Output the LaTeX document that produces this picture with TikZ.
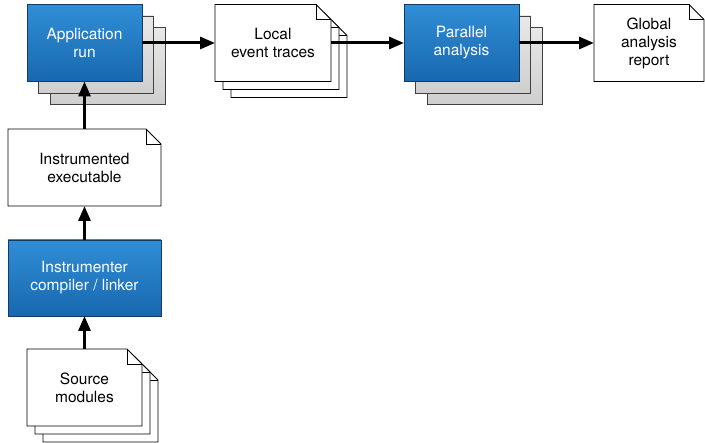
\documentclass[tikz,border=0pt]{standalone}
\usepackage{fontspec}
\setsansfont{TeX Gyre Heros}
\usetikzlibrary{arrows.meta}

\definecolor{boxtop}{RGB}{48,142,214}
\definecolor{boxbottom}{RGB}{24,104,174}
\definecolor{boxedge}{RGB}{18,60,100}

% dog-eared outline round a document node
\newcommand{\docedge}[1]{%
    \draw[line width=0.8pt, fill=white] (#1.north west) -- ([xshift=-15pt]#1.north east)
        -- ([yshift=-15pt]#1.north east) -- (#1.south east) -- (#1.south west) -- cycle;
    \draw[line width=0.8pt] ([xshift=-15pt]#1.north east) |- ([yshift=-15pt]#1.north east);
}

\begin{document}
\begin{tikzpicture}[
    x=1pt, y=-1pt,
    node font=\sffamily\fontsize{15.5}{18}\selectfont,
    flow arrow/.style={-{Triangle[length=15pt,width=12pt]}, line width=3pt},
    blue box/.style={draw=boxedge, line width=0.8pt, top color=boxtop, bottom color=boxbottom,
        text=white, align=center, inner sep=0pt, outer sep=0pt,
        minimum width=115pt, minimum height=77pt},
    gray sheet/.style={draw=black!75, line width=0.8pt, top color=gray!18, bottom color=gray!38,
        inner sep=0pt, outer sep=0pt, minimum width=115pt, minimum height=77pt},
    doc/.style={align=center, inner sep=0pt, outer sep=0pt,
        minimum width=115pt, minimum height=77pt},
]
\useasboundingbox (0,0) rectangle (705,443);

% Application run (stacked)
\node[gray sheet] (app2) at (107.5,66) {};
\node[gray sheet] (app1) at (96,54.5) {};
\node[blue box] (app) at (84.5,43) {Application\\run};

% Local event traces (stacked)
\node[doc, minimum width=116pt] (local2) at (289,59) {};
\docedge{local2}
\node[doc, minimum width=116pt] (local1) at (281,51) {};
\docedge{local1}
\node[doc, minimum width=116pt] (local) at (273,43) {};
\docedge{local}
\node[doc, minimum width=116pt] at (local) {Local\\event traces};

% Parallel analysis (stacked)
\node[gray sheet] (par2) at (484.5,66) {};
\node[gray sheet] (par1) at (473,54.5) {};
\node[blue box] (par) at (461.5,43) {Parallel\\analysis};

% Global analysis report
\node[doc, minimum width=110pt] (report) at (649,43) {};
\docedge{report}
\node[doc, minimum width=110pt] at (report) {Global\\analysis\\report};

% Instrumented executable
\node[doc, minimum width=153pt] (exe) at (84.5,167.5) {};
\docedge{exe}
\node[doc, minimum width=153pt] at (exe) {Instrumented\\executable};

% Instrumenter
\node[blue box, minimum width=153pt, minimum height=76pt] (instr) at (84.5,278) {Instrumenter\\compiler / linker};

% Source modules (stacked)
\node[doc] (src2) at (100.5,403.5) {};
\docedge{src2}
\node[doc] (src1) at (92.5,395.5) {};
\docedge{src1}
\node[doc] (src) at (84.5,387.5) {};
\docedge{src}
\node[doc] at (src) {Source\\modules};

% Flow
\draw[flow arrow] (src) -- (instr);
\draw[flow arrow] (instr) -- (exe);
\draw[flow arrow] (exe) -- (app);
\draw[flow arrow] (app) -- (local);
\draw[flow arrow] (local) -- (par);
\draw[flow arrow] (par) -- (report);

\end{tikzpicture}
\end{document}
